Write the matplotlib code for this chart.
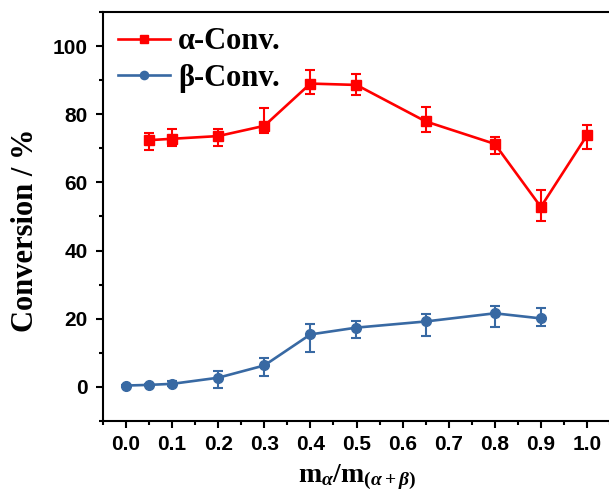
import matplotlib
matplotlib.use('Agg')
import matplotlib.pyplot as plt
from matplotlib.ticker import MultipleLocator

# Mass fraction of alpha phase
x_alpha = [0.05, 0.1, 0.2, 0.3, 0.4, 0.5, 0.65, 0.8, 0.9, 1.0]
conv_alpha = [72.4, 72.8, 73.6, 76.6, 89.0, 88.6, 77.9, 71.3, 52.8, 73.8]
alpha_err_lo = [2.8, 2.1, 2.9, 2.1, 3.0, 3.0, 3.1, 2.9, 4.1, 4.1]
alpha_err_hi = [2.2, 3.0, 2.1, 5.1, 4.1, 3.2, 4.1, 1.9, 5.0, 3.0]

x_beta = [0.0, 0.05, 0.1, 0.2, 0.3, 0.4, 0.5, 0.65, 0.8, 0.9]
conv_beta = [0.4, 0.6, 0.9, 2.7, 6.3, 15.4, 17.4, 19.2, 21.6, 20.1]
beta_err_lo = [0.3, 0.4, 0.7, 2.9, 3.1, 5.1, 3.1, 4.2, 4.0, 2.2]
beta_err_hi = [0.3, 0.4, 0.7, 2.1, 2.1, 3.1, 2.0, 2.2, 2.0, 3.1]

RED = '#FF0000'
BLUE = '#3869A3'

plt.rcParams['mathtext.fontset'] = 'custom'
plt.rcParams['mathtext.rm'] = 'Liberation Serif:bold'
plt.rcParams['mathtext.it'] = 'Liberation Serif:italic:bold'
plt.rcParams['mathtext.bf'] = 'Liberation Serif:bold'

fig = plt.figure(figsize=(6.09, 4.96), dpi=100)
ax = fig.add_axes([103 / 609, 1 - 421 / 496, 507 / 609, 409 / 496])

eb_a = ax.errorbar(x_alpha, conv_alpha, yerr=[alpha_err_lo, alpha_err_hi],
                   color=RED, marker='s', markersize=6.5, linewidth=1.9,
                   elinewidth=1.5, capsize=3.3, capthick=1.5)
eb_b = ax.errorbar(x_beta, conv_beta, yerr=[beta_err_lo, beta_err_hi],
                   color=BLUE, marker='o', markersize=7, linewidth=1.9,
                   elinewidth=1.5, capsize=3.3, capthick=1.5)

ax.set_xlim(-0.05, 1.05)
ax.set_ylim(-10, 110)
ax.xaxis.set_major_locator(MultipleLocator(0.1))
ax.xaxis.set_minor_locator(MultipleLocator(0.05))
ax.yaxis.set_major_locator(MultipleLocator(20))
ax.yaxis.set_minor_locator(MultipleLocator(10))
ax.tick_params(which='major', direction='out', length=5, width=1.5, pad=5)
ax.tick_params(which='minor', direction='out', length=3, width=1.5)
ax.tick_params(axis='y', which='major', pad=6)
for side in ['left', 'bottom', 'top']:
    ax.spines[side].set_linewidth(1.5)
ax.spines['right'].set_visible(False)

for lab in ax.get_xticklabels() + ax.get_yticklabels():
    lab.set_fontfamily('Liberation Sans')
    lab.set_fontweight('bold')
    lab.set_fontsize(15)

ax.set_ylabel('Conversion / %', fontfamily='Liberation Serif',
              fontweight='bold', fontsize=22)
ax.yaxis.set_label_coords(-0.124, 0.467)
ax.set_xlabel(r'm$_{α}$/m$_{(α+β)}$', fontfamily='Liberation Serif',
              fontweight='bold', fontsize=20, labelpad=6)

# legend shows only line + marker, no error bars
leg = ax.legend([eb_a[0], eb_b[0]], ['α-Conv.', 'β-Conv.'],
                loc='upper left', frameon=False, handlelength=1.7,
                borderaxespad=0.2, borderpad=0.3, labelspacing=0.25,
                handletextpad=0.25, markerscale=0.85,
                prop={'family': 'Liberation Serif', 'weight': 'bold', 'size': 22})

fig.savefig('out.png', dpi=100)
